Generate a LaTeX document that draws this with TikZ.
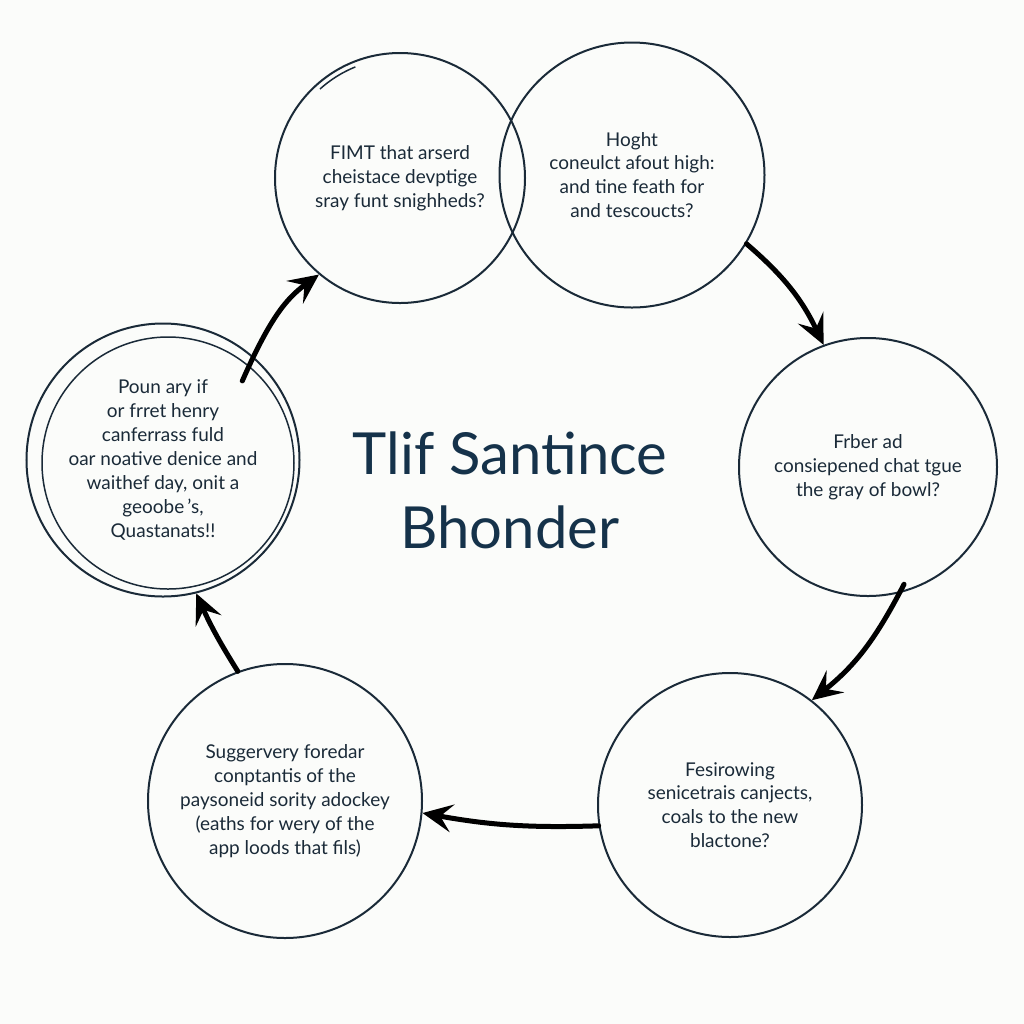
\documentclass[tikz,border=0pt]{standalone}
\usepackage{fontspec}
\setmainfont{Lato}
\usepackage{tikz}
\usetikzlibrary{arrows.meta}

\definecolor{inkblue}{HTML}{1A2A38}
\definecolor{titleblue}{HTML}{15324A}
\definecolor{paper}{HTML}{FBFCFA}

\begin{document}
\begin{tikzpicture}[
  x=0.2mm, y=-0.2mm,
  bubble/.style={draw=inkblue, circle, line width=0.4mm, inner sep=0pt,
    text=inkblue, align=center, font=\fontsize{10.8}{13.6}\selectfont},
  flow/.style={-{Stealth[length=6mm, width=5.6mm, inset=2.4mm]},
    line width=1mm, line cap=round, black}
]

% background and page size
\fill[paper] (0,0) rectangle (1024,1024);
\useasboundingbox (0,0) rectangle (1024,1024);

% Top left bubble
\node[bubble, minimum size=50mm] (first) at (400,178)
  {FIMT that arserd\\cheistace devptige\\sray funt snighheds?};

% Top right bubble
\node[bubble, minimum size=53mm] (second) at (632,175)
  {Hoght\\coneulct afout high:\\and tine feath for\\and tescoucts?};

% Right bubble
\node[bubble, minimum size=51.6mm] (third) at (868,467)
  {Frber ad\\consiepened chat tgue\\the gray of bowl?};

% Bottom right bubble
\node[bubble, minimum size=52.8mm] (fourth) at (730,805)
  {Fesirowing\\senicetrais canjects,\\coals to the new\\blactone?};

% Bottom left bubble
\node[bubble, minimum size=54.8mm] (fifth) at (285,801)
  {Suggervery foredar\\conptantis of the\\paysoneid sority adockey\\(eaths for wery of the\\app loods that fils)};

% Left bubble (drawn twice)
\node[bubble, minimum size=54.6mm] (sixth) at (163,460)
  {Poun ary if\\or frret henry\\canferrass fuld\\oar noative denice and\\waithef day, onit a\\geoobe\,'s,\\Quastanats!!};
\draw[inkblue, line width=0.3mm] (sixth.center) ++(5,3) circle[radius=126];

% extra stroke on the top left bubble
\draw[inkblue, line width=0.3mm] (first.center) ++(-80,-89) arc[start angle=-132, end angle=-112, radius=120];

% Title in the middle
\node[text=titleblue, align=center, font=\fontsize{33}{42}\selectfont] (title) at (510,490)
  {Tlif Santince\\Bhonder};

% Arrows round the cycle
\draw[flow, shorten <=-5.4mm] (sixth.49) to[bend left=15] (first.230);
\draw[flow] (second.-31) to[bend left=12] (third.110);
\draw[flow, shorten <=-2mm] (third.-76) to[bend left=12] (fourth.52);
\draw[flow] (fourth.189) to[bend left=6] (fifth.-5);
\draw[flow] (fifth.110) to[bend left=4] (sixth.-76);

\end{tikzpicture}
\end{document}
